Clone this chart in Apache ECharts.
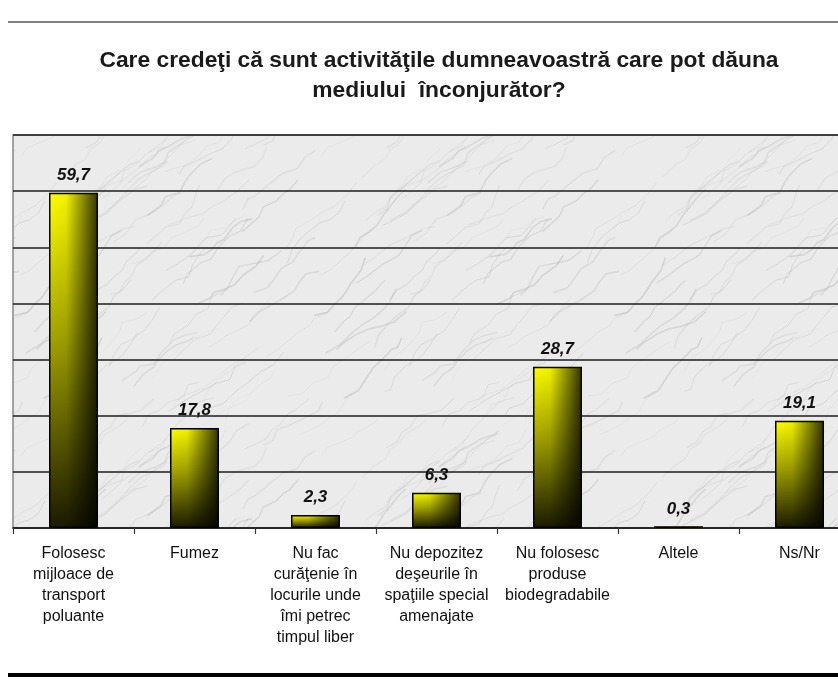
<!DOCTYPE html>
<html>
<head>
<meta charset="utf-8">
<script src="https://cdn.jsdelivr.net/npm/echarts@6/dist/echarts.min.js"></script>
<style>
  html, body { margin: 0; padding: 0; background: #fff; overflow: hidden; }
  #chart { width: 860px; height: 681px; }
</style>
</head>
<body>
<div id="chart"></div>
<script>
var categories = [
  "Folosesc\nmijloace de\ntransport\npoluante",
  "Fumez",
  "Nu fac\ncurăţenie în\nlocurile unde\nîmi petrec\ntimpul liber",
  "Nu depozitez\ndeşeurile în\nspaţiile special\namenajate",
  "Nu folosesc\nproduse\nbiodegradabile",
  "Altele",
  "Ns/Nr"
];
var values = [59.7, 17.8, 2.3, 6.3, 28.7, 0.3, 19.1];
var titleText = "Care credeţi că sunt activităţile dumneavoastră care pot dăuna\nmediului  înconjurător?";

// marble-ish texture for the plot background (tileable)
function marble() {
  var S = 300;
  var c = document.createElement("canvas");
  c.width = S; c.height = S;
  var g = c.getContext("2d");
  g.fillStyle = "#ebebeb";
  g.fillRect(0, 0, S, S);
  var seed = 11;
  function rnd() { seed = (seed * 16807) % 2147483647; return seed / 2147483647; }
  for (var i = 0; i < 70; i++) {
    var pts = [];
    var x = rnd() * S, y = rnd() * S;
    pts.push([x, y]);
    for (var k = 0; k < 7; k++) {
      x += 3 + rnd() * 12; y -= 2 + rnd() * 11;
      pts.push([x, y]);
    }
    var alpha = 0.05 + rnd() * 0.15;
    var lw = 0.5 + rnd() * 1.3;
    for (var ox = -S; ox <= S; ox += S) {
      for (var oy = -S; oy <= S; oy += S) {
        g.strokeStyle = "rgba(105,105,105," + alpha + ")";
        g.lineWidth = lw;
        g.beginPath();
        g.moveTo(pts[0][0] + ox, pts[0][1] + oy);
        for (var m = 1; m < pts.length; m++) g.lineTo(pts[m][0] + ox, pts[m][1] + oy);
        g.stroke();
      }
    }
  }
  return c;
}

var myChart = echarts.init(document.getElementById("chart"));

var option = {
  backgroundColor: "#fff",
  animation: false,
  title: {
    text: titleText,
    left: 434,
    top: 41,
    textAlign: "center",
    textStyle: {
      fontFamily: "Liberation Sans, Arial, sans-serif",
      fontSize: 22.8,
      fontWeight: "bold",
      color: "#1a1a1a",
      lineHeight: 30
    }
  },
  graphic: [
    { type: "line", shape: { x1: 8, y1: 22, x2: 860, y2: 22 }, style: { stroke: "#808080", lineWidth: 2 } },
    { type: "line", shape: { x1: 8, y1: 675, x2: 860, y2: 675 }, style: { stroke: "#000", lineWidth: 4 } }
  ],
  grid: {
    left: 13,
    top: 135,
    right: 0,
    bottom: 153,
    show: true,
    backgroundColor: { image: marble(), repeat: "repeat" },
    borderColor: "#888",
    borderWidth: 1.5
  },
  xAxis: {
    type: "category",
    data: categories,
    axisLine: { lineStyle: { color: "#222", width: 1.5 } },
    axisTick: { show: true, length: 6, lineStyle: { color: "#333", width: 1.2 } },
    axisLabel: {
      interval: 0,
      margin: 15,
      fontFamily: "Liberation Sans, Arial, sans-serif",
      fontSize: 16,
      lineHeight: 21,
      color: "#111",
      align: "center"
    }
  },
  yAxis: {
    type: "value",
    min: 0,
    max: 70,
    interval: 10,
    axisLabel: { show: false },
    axisLine: { show: false },
    axisTick: { show: false },
    splitLine: { lineStyle: { color: "#1e1e1e", width: 1.5 } }
  },
  series: [
    {
      type: "bar",
      data: values,
      barWidth: 49,
      itemStyle: {
        color: new echarts.graphic.LinearGradient(0, 0, 0, 1, [
          { offset: 0, color: "#ffff00" },
          { offset: 0.45, color: "#a0a000" },
          { offset: 1, color: "#1a1a00" }
        ])
      },
      label: {
        show: true,
        position: "top",
        distance: 9,
        fontFamily: "Liberation Sans, Arial, sans-serif",
        fontSize: 17,
        fontWeight: "bold",
        fontStyle: "italic",
        color: "#111",
        formatter: function (p) { return String(p.value).replace(".", ","); }
      }
    },
    {
      type: "bar",
      data: values,
      barWidth: 49,
      barGap: "-100%",
      silent: true,
      itemStyle: {
        color: new echarts.graphic.LinearGradient(0, 0, 1, 0, [
          { offset: 0, color: "rgba(0,0,0,0)" },
          { offset: 0.35, color: "rgba(0,0,0,0.05)" },
          { offset: 1, color: "rgba(0,0,0,0.8)" }
        ]),
        borderColor: "#000",
        borderWidth: 1.5
      }
    }
  ]
};

myChart.setOption(option);
</script>
</body>
</html>
